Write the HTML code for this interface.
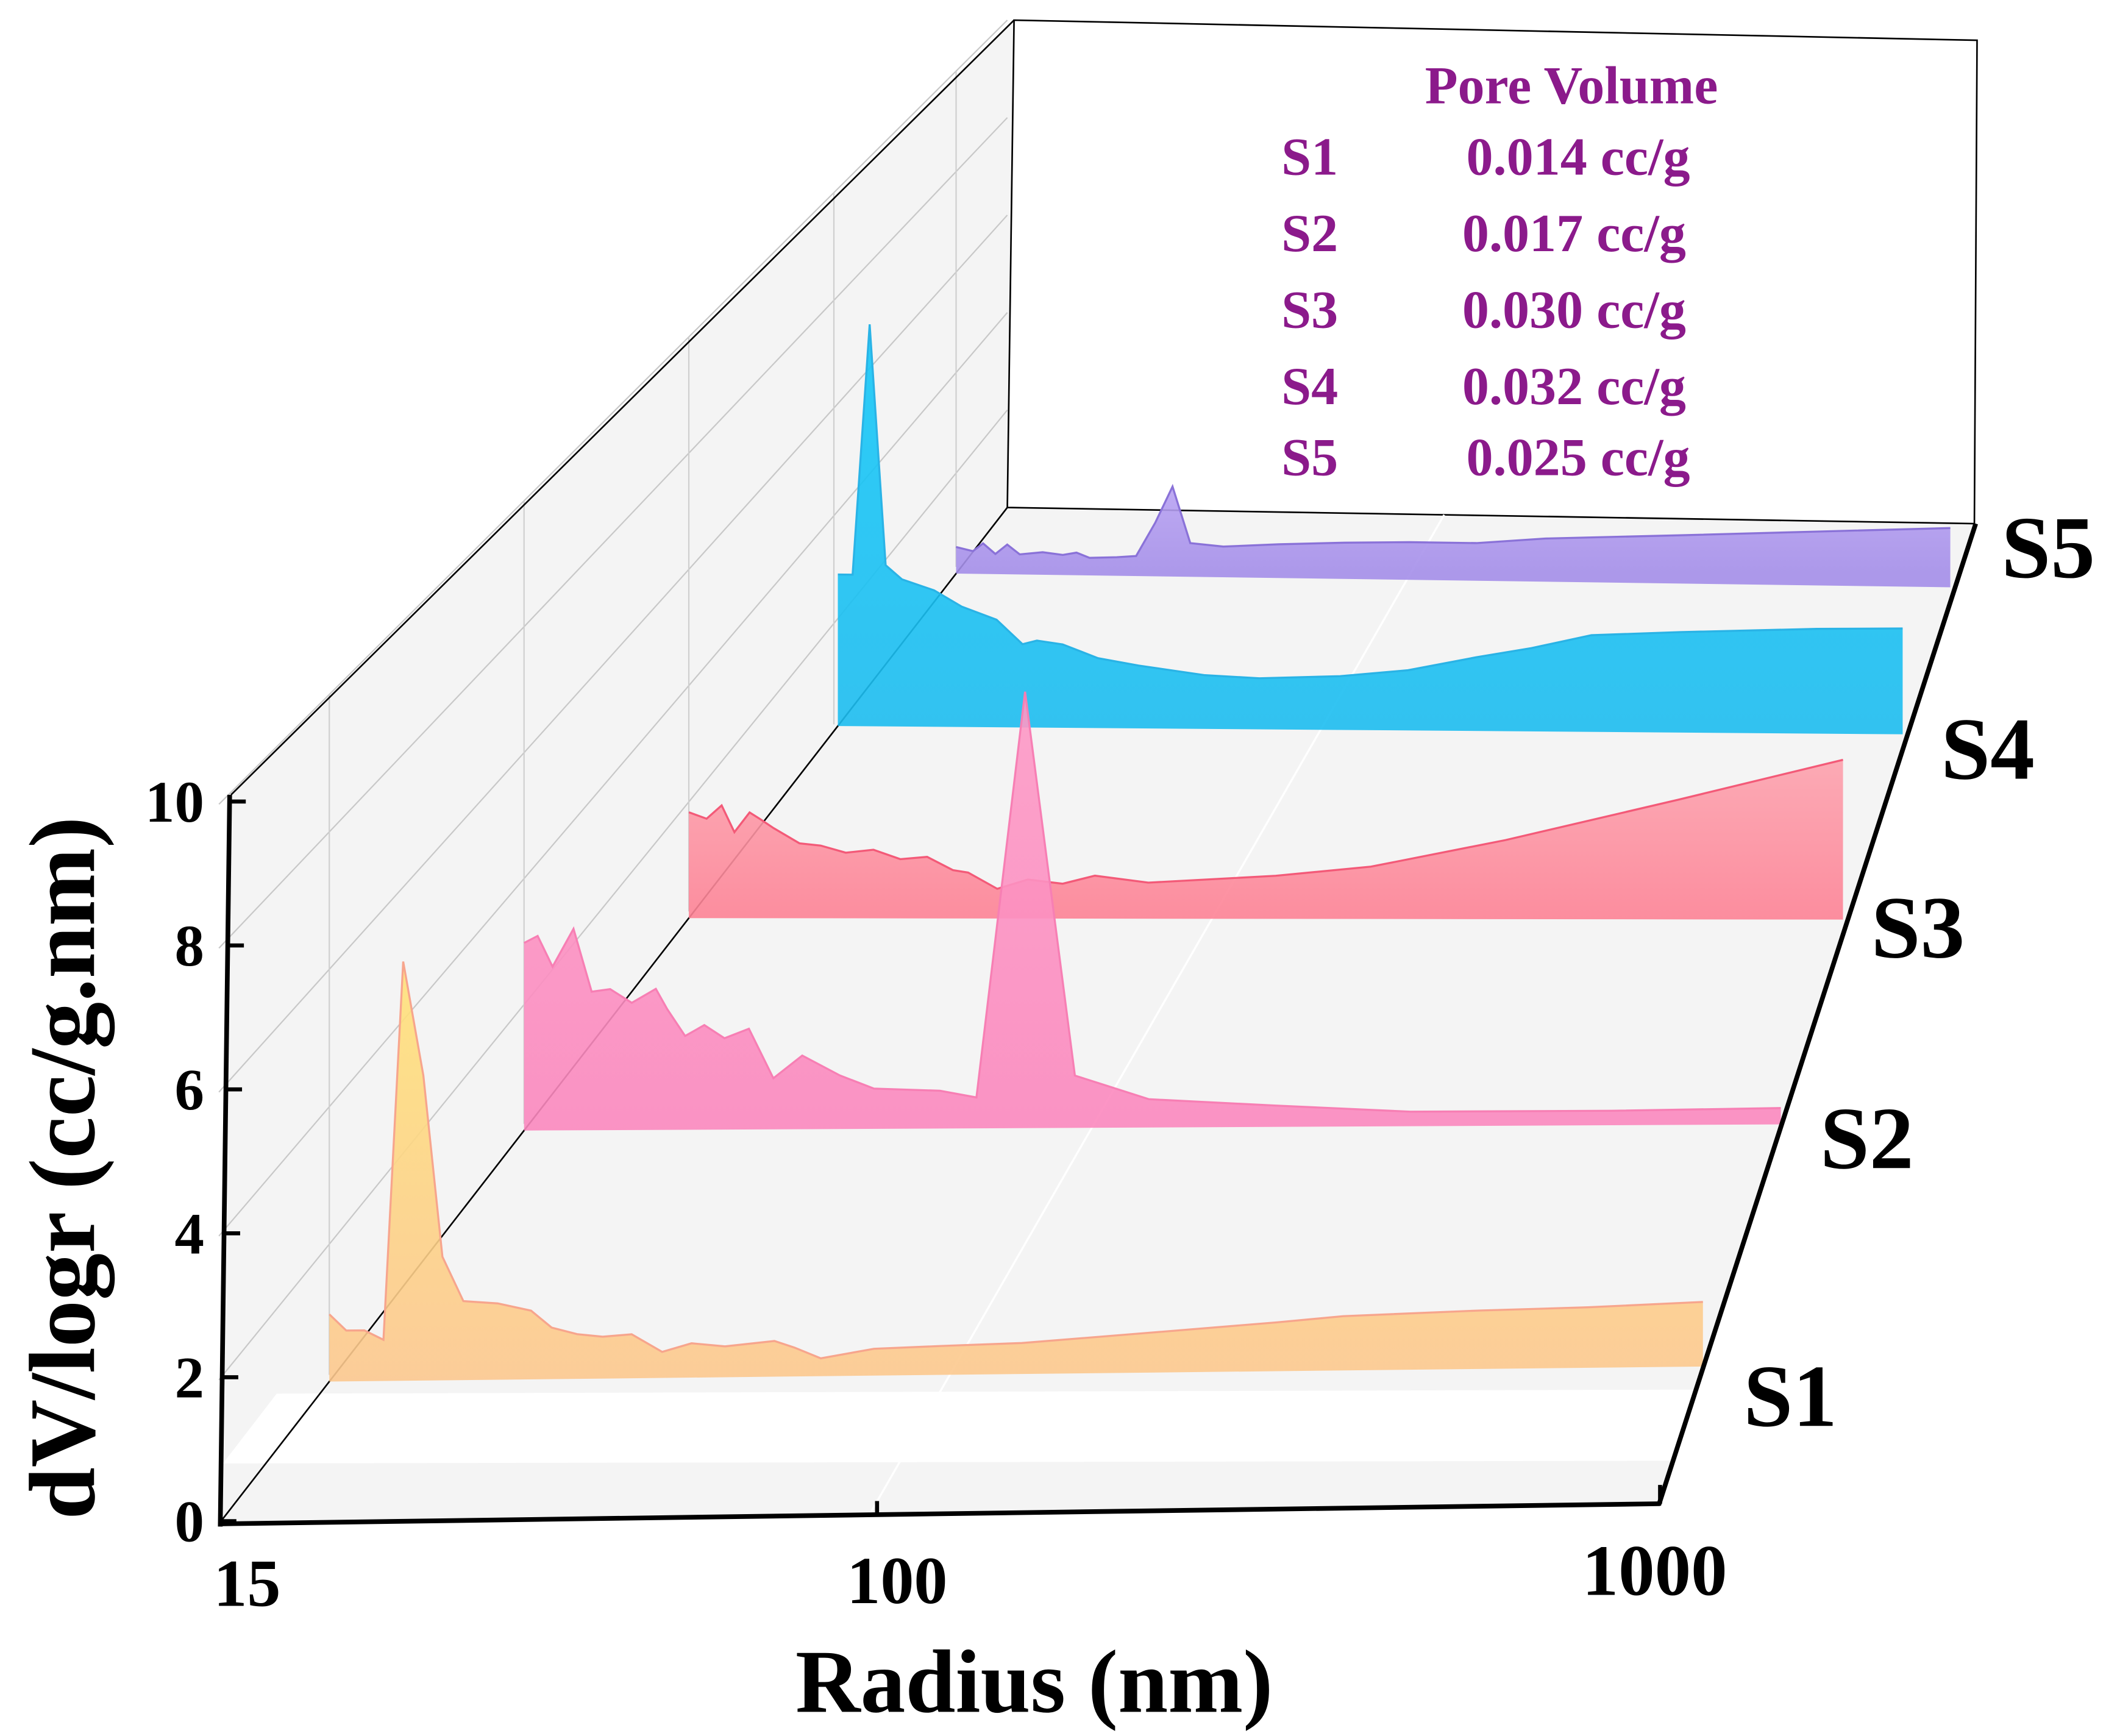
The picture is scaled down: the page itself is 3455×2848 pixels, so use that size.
<!DOCTYPE html>
<html><head><meta charset="utf-8"><style>
html,body{margin:0;padding:0;background:#fff;}
svg{display:block;}
text{font-family:"Liberation Serif",serif;font-weight:bold;}
</style></head><body>
<svg id="chart" width="3455" height="2848" viewBox="0 0 1568 1293" preserveAspectRatio="none" xmlns="http://www.w3.org/2000/svg">
<polygon points="163,1135 172,592 755,15 750,378" fill="#f4f4f4"/>
<polygon points="163,1135 750,378 1470,390 1235,1120" fill="#f4f4f4"/>
<polygon points="166,1090 206,1038 1262,1035 1250,1088" fill="#ffffff"/>
<polygon points="750,378 755,15 1472,30 1470,390" fill="#ffffff" stroke="#000" stroke-width="1.2"/>
<g id="grid"></g>
<line x1="172" y1="592" x2="755" y2="15" stroke="#000" stroke-width="1.2"/>
<line x1="163" y1="1135" x2="750" y2="378" stroke="#000" stroke-width="1.2"/>
<g id="series"></g>
<line x1="164" y1="1137" x2="171" y2="592" stroke="#000" stroke-width="3.5"/>
<line x1="163" y1="1135" x2="1236" y2="1120" stroke="#000" stroke-width="3.5"/>
<line x1="1235" y1="1121" x2="1471" y2="390" stroke="#000" stroke-width="3.5"/>
<line x1="1236" y1="1120" x2="1236" y2="1106" stroke="#000" stroke-width="3"/>
<line x1="653" y1="1128" x2="653" y2="1118" stroke="#000" stroke-width="3"/>
<g id="yticks"></g>
<text transform="translate(70,870) rotate(-90)" text-anchor="middle" font-size="70">dV/logr (cc/g.nm)</text>
<text x="184" y="1196" text-anchor="middle" font-size="50">15</text>
<text x="668" y="1194" text-anchor="middle" font-size="50">100</text>
<text x="1232" y="1188" text-anchor="middle" font-size="54">1000</text>
<text x="770" y="1275" text-anchor="middle" font-size="67">Radius (nm)</text>
<g font-size="66" text-anchor="middle">
<text x="1333" y="1062">S1</text>
<text x="1390" y="870">S2</text>
<text x="1428" y="713">S3</text>
<text x="1480" y="580">S4</text>
<text x="1525" y="430">S5</text>
</g>
<g fill="#8b1a8b" font-size="40">
<text x="1170" y="77" text-anchor="middle">Pore Volume</text>
<text x="954" y="130">S1</text>
<text x="1175" y="130" text-anchor="middle">0.014 cc/g</text>
<text x="954" y="187">S2</text>
<text x="1172" y="187" text-anchor="middle">0.017 cc/g</text>
<text x="954" y="244">S3</text>
<text x="1172" y="244" text-anchor="middle">0.030 cc/g</text>
<text x="954" y="301">S4</text>
<text x="1172" y="301" text-anchor="middle">0.032 cc/g</text>
<text x="954" y="354">S5</text>
<text x="1175" y="354" text-anchor="middle">0.025 cc/g</text>
</g>
</svg>
<script>
const seriesNames = ["S1","S2","S3","S4","S5"];
const depths = [0.14, 0.387, 0.596, 0.785, 0.935];
const r1 = [15,15.8,16.7,17.7,18.8,20,21.2,22.6,25.1,27.8,29.6,32,34.6,37.8,41.5,45.4,50.3,58.5,62.2,67.4,79.3,97.4,124.6,179,272,333,505,703,1000];
const v1 = [0.98,0.74,0.74,0.60,6.1,4.44,1.80,1.15,1.11,1.0,0.75,0.65,0.61,0.64,0.38,0.50,0.45,0.52,0.42,0.26,0.39,0.42,0.45,0.57,0.71,0.79,0.85,0.88,0.94];
const r2 = [15,15.7,16.5,17.7,18.8,20,21.5,23.3,24.2,25.7,27.4,29.3,31.8,34.5,38,43.1,48.3,60.2,68,80,94.5,121,184,290,568,1000];
const v2 = [2.98,3.09,2.6,3.2,2.2,2.24,2.02,2.24,1.92,1.49,1.66,1.45,1.6,0.81,1.17,0.85,0.64,0.6,0.49,6.93,0.83,0.45,0.34,0.23,0.23,0.26];
const r3 = [15,16,16.9,17.7,18.7,19.4,20.4,22.4,24.2,26.5,29.3,32.3,35.6,39.1,41.3,45.9,51.3,58.2,65.4,79.4,126,178,290,543,986];
const v3 = [1.82,1.71,1.94,1.48,1.82,1.71,1.55,1.29,1.25,1.13,1.18,1.02,1.06,0.83,0.79,0.51,0.67,0.6,0.74,0.62,0.74,0.9,1.36,2.06,2.75];
const r4 = [15,15.9,17,18.1,19.3,21.9,24.4,28,31,32.8,36.3,41.7,48.9,63.5,78.6,108,141,184,229,290,410,703,985];
const v4 = [2.82,2.82,7.48,3.0,2.74,2.54,2.24,2.0,1.55,1.62,1.55,1.30,1.17,1.0,0.95,1.0,1.12,1.37,1.55,1.8,1.87,1.95,1.97];
const r5 = [15,16.1,16.8,17.7,18.6,19.6,21.6,23.5,24.9,26.3,29.5,32,34.7,37.3,40.2,46.2,58.3,76.9,101,134,179,315,553,985];
const v5 = [0.53,0.45,0.61,0.4,0.59,0.4,0.45,0.4,0.45,0.35,0.37,0.4,1.07,1.79,0.67,0.61,0.67,0.72,0.75,0.75,0.86,0.96,1.07,1.18];
const yTicks = [0,2,4,6,8,10];
const radii = [r1,r2,r3,r4,r5];
const values = [v1,v2,v3,v4,v5];
const fills = ["#fcc88f","#fb88be","#fd8295","#1dbdf0","#a48ee9"];
const strokes = ["#f7a58d","#f77fb4","#f35a78","#2ab3e6","#8a72d8"];

const NS = "http://www.w3.org/2000/svg";
const FL=[163,1135],FR=[1235,1120],BL=[750,378],BR=[1470,390];
function uOf(r){ return Math.log(r/15)/Math.log(1000/15); }
function proj(u,v,z){
  const fx=FL[0]+(FR[0]-FL[0])*u, fy=FL[1]+(FR[1]-FL[1])*u;
  const bx=BL[0]+(BR[0]-BL[0])*u, by=BL[1]+(BR[1]-BL[1])*u;
  const s=53.6-17.3*v;
  return [fx+(bx-fx)*v, fy+(by-fy)*v - z*s];
}
const svg=document.getElementById('chart');
const defs=document.createElementNS(NS,'defs');
svg.insertBefore(defs, svg.firstChild);
const tops=["#ffe27a","#fd9ac6","#fda2ae","#15c8f8","#b8a2f2"];
const grid=document.getElementById('grid');
yTicks.forEach(t=>{
  if(t===0) return;
  const a=proj(0,0,t), b=proj(0,1,t);
  const l=document.createElementNS(NS,'line');
  
  
  l.setAttribute('x1',a[0]);l.setAttribute('y1',a[1]);l.setAttribute('x2',b[0]);l.setAttribute('y2',b[1]);
  l.setAttribute('stroke','#c8c8c8');l.setAttribute('stroke-width','1');
  grid.appendChild(l);
});
[0.14,0.387,0.596,0.78,0.935].forEach(v=>{
  const a=proj(0,v,0), b=proj(0,v,10);
  const l=document.createElementNS(NS,'line');
  
  
  l.setAttribute('x1',a[0]);l.setAttribute('y1',a[1]-5);l.setAttribute('x2',b[0]);l.setAttribute('y2',b[1]);
  l.setAttribute('stroke','#cfcfcf');l.setAttribute('stroke-width','1');
  grid.appendChild(l);
});
{
  const a=proj(uOf(100),0,0), b=proj(uOf(100),1,0);
  const l=document.createElementNS(NS,'line');
  
  
  l.setAttribute('x1',a[0]);l.setAttribute('y1',a[1]);l.setAttribute('x2',b[0]);l.setAttribute('y2',b[1]);
  l.setAttribute('stroke','#ffffff');l.setAttribute('stroke-width','1.5');
  grid.appendChild(l);
}
const sg=document.getElementById('series');
for(let i=seriesNames.length-1;i>=0;i--){
  const v=depths[i], rs=radii[i], vs=values[i];
  const base0=proj(0,v,0);
  let maxY=1e9;
  const pts=rs.map((r,k)=>{const p=proj(uOf(r),v,vs[k]); if(p[1]<maxY)maxY=p[1]; return p;});
  const g=document.createElementNS(NS,'linearGradient');
  g.setAttribute('id','g'+i);g.setAttribute('gradientUnits','userSpaceOnUse');
  g.setAttribute('x1','0');g.setAttribute('x2','0');g.setAttribute('y1',maxY);g.setAttribute('y2',base0[1]);
  g.innerHTML='<stop offset="0" stop-color="'+tops[i]+'"/><stop offset="1" stop-color="'+fills[i]+'"/>';
  defs.appendChild(g);
  const lastR=rs[rs.length-1], endB=proj(uOf(lastR),v,0);
  let d='M'+base0[0]+','+base0[1];
  pts.forEach(p=>{d+=' L'+p[0].toFixed(1)+','+p[1].toFixed(1);});
  d+=' L'+endB[0]+','+endB[1]+' Z';
  const area=document.createElementNS(NS,'path');
  
  
  area.setAttribute('d',d);
  area.setAttribute('fill','url(#g'+i+')');
  area.setAttribute('fill-opacity','0.9');
  area.setAttribute('stroke','none');
  sg.appendChild(area);
  let ld='M'+pts.map(p=>p[0].toFixed(1)+','+p[1].toFixed(1)).join(' L');
  const line=document.createElementNS(NS,'path');
  
  
  line.setAttribute('d',ld);
  line.setAttribute('fill','none');
  line.setAttribute('stroke',strokes[i]);
  line.setAttribute('stroke-width','1.5');
  sg.appendChild(line);
}
const yt=document.getElementById('yticks');
yTicks.forEach(t=>{
  const y=1133-t*53.6;
  const x0=164+7*(t/10);
  const l=document.createElementNS(NS,'line');
  
  
  l.setAttribute('x1',x0);l.setAttribute('y1',y);l.setAttribute('x2',x0+12);l.setAttribute('y2',y);
  l.setAttribute('stroke','#000');l.setAttribute('stroke-width','3');
  yt.appendChild(l);
  const tx=document.createElementNS(NS,'text');
  
  
  tx.setAttribute('x',152);tx.setAttribute('y',y+15);
  tx.setAttribute('text-anchor','end');tx.setAttribute('font-size','44');
  tx.textContent=t;
  yt.appendChild(tx);
});
</script>
</body></html>
